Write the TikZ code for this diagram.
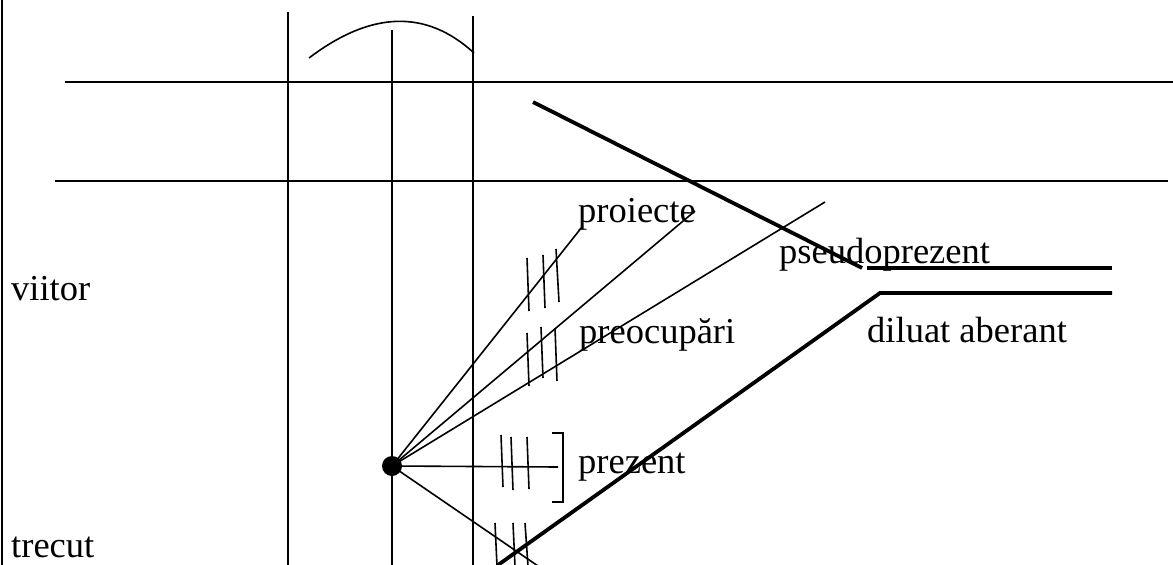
\documentclass[tikz,border=0pt]{standalone}
\usepackage{fontspec}
\setmainfont{Liberation Serif}
\tikzset{
  thinline/.style={line width=1.6pt, line cap=butt},
  thickline/.style={line width=3.8pt, line cap=butt},
  lbl/.style={anchor=base west, inner sep=0pt, font=\fontsize{36.5}{40}\selectfont},
  tick/.style={line width=1.6pt}
}
\begin{document}
\begin{tikzpicture}[x=1pt,y=-1pt]
\useasboundingbox (0,0) rectangle (1173,565);
\begin{scope}
\clip (0,0) rectangle (1173,565);
% left border
\draw[thinline] (2,0) -- (2,565);
% horizontal lines
\draw[thinline] (65,82) -- (1173,82);
\draw[thinline] (55,181) -- (1168,181);
% vertical lines
\draw[thinline] (288,12) -- (288,565);
\draw[thinline] (392,30) -- (392,565);
\draw[thinline] (473,16) -- (473,565);
% arc
\draw[thinline] (309,58) .. controls (371,11) and (426,9) .. (474,53);
% thick lines
\draw[thickline] (533,102) -- (862,268);
\draw[thickline] (867,268) -- (1112,268);
\draw[thickline] (1112,293) -- (880,293) -- (498,565);
% dot and fan
\coordinate (d) at (392,466);
\coordinate (f1) at (582,227);
\coordinate (f2) at (695,211);
\coordinate (f3) at (825,202);
\coordinate (f4) at (558,467);
\coordinate (f5) at (538,566);
\draw[thinline] (d) -- (f1);
\draw[thinline] (d) -- (f2);
\draw[thinline] (d) -- (f3);
\draw[thinline] (d) -- (f4);
\draw[thinline] (d) -- (f5);
\fill (d) circle (10);
% bracket
\draw[thinline] (552,433) -- (563,433) -- (563,502) -- (552,502);
% ticks
\draw[tick] (527,258) -- (529,311);
\draw[tick] (543,255) -- (545,308);
\draw[tick] (556,249) -- (559,302);
\draw[tick] (527,333) -- (529,386);
\draw[tick] (541,327) -- (543,378);
\draw[tick] (555,328) -- (557,381);
\draw[tick] (501,435) -- (503,487);
\draw[tick] (511,437) -- (513,490);
\draw[tick] (527,437) -- (529,489);
\draw[tick] (495,523) -- (497,566);
\draw[tick] (513,523) -- (515,566);
\draw[tick] (525,523) -- (528,566);
\end{scope}
% labels
\node[lbl] (viitor) at (11,300) {viitor};
\node[lbl] (trecut) at (11,557) {trecut};
\node[lbl] (proiecte) at (578,222) {proiecte};
\node[lbl] (preocupari) at (579,343) {preocupări};
\node[lbl] (prezent) at (578,473) {prezent};
\node[lbl] (pseudo) at (779,263) {pseudoprezent};
\node[lbl] (diluat) at (867,342) {diluat aberant};
\end{tikzpicture}
\end{document}
